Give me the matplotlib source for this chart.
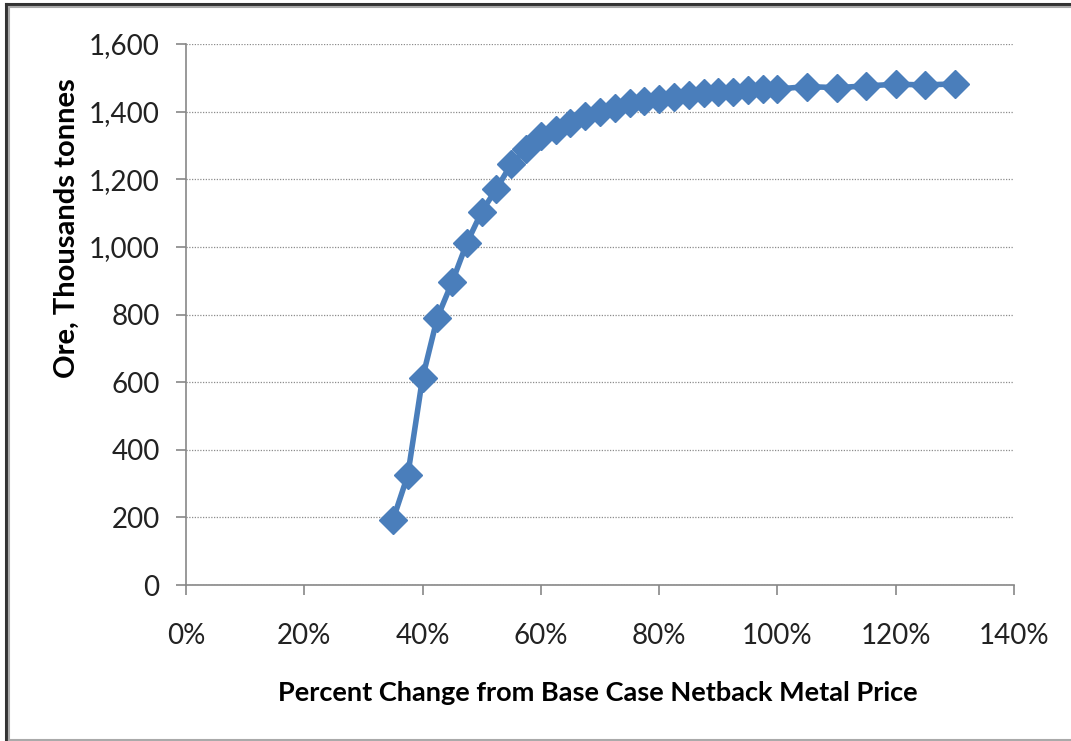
"""Ore tonnage vs. percent change in netback metal price (Excel-style line chart)."""
import matplotlib
matplotlib.use("Agg")
import matplotlib.pyplot as plt
from matplotlib.ticker import FuncFormatter, MultipleLocator
from matplotlib.lines import Line2D

# percent change from base case netback metal price
pct_change = [35, 37.5, 40, 42.5, 45, 47.5, 50, 52.5, 55, 57.5, 60, 62.5, 65,
              67.5, 70, 72.5, 75, 77.5, 80, 82.5, 85, 87.5, 90, 92.5, 95,
              97.5, 100, 105, 110, 115, 120, 125, 130]
# ore, thousands tonnes
ore_kt = [193, 325, 613, 791, 896, 1012, 1104, 1172, 1245, 1289, 1327, 1347,
          1367, 1386, 1400, 1411, 1425, 1430, 1438, 1444, 1450, 1454, 1457,
          1459, 1464, 1467, 1467, 1474, 1471, 1476, 1481, 1479, 1482]

BLUE = "#4a7ebb"
GRID = "#8c8c8c"
FONT = "Lato"

fig = plt.figure(figsize=(10.71, 7.41), dpi=100)
ax = fig.add_axes([186 / 1071, 1 - 585 / 741, 828 / 1071, 541 / 741])

ax.plot(pct_change, ore_kt, color=BLUE, lw=4, marker="D", ms=14,
        mec=BLUE, mfc=BLUE, zorder=3)

ax.set_xlim(0, 140)
ax.set_ylim(0, 1600)
ax.xaxis.set_major_locator(MultipleLocator(20))
ax.yaxis.set_major_locator(MultipleLocator(200))
ax.xaxis.set_major_formatter(FuncFormatter(lambda v, _: f"{v:.0f}%"))
ax.yaxis.set_major_formatter(FuncFormatter(lambda v, _: f"{v:,.0f}"))

ax.grid(axis="y", color=GRID, ls=(0, (1, 1.2)), lw=0.9)
ax.set_axisbelow(True)
for s in ("top", "right"):
    ax.spines[s].set_visible(False)
for s in ("left", "bottom"):
    ax.spines[s].set_color("#878787")
    ax.spines[s].set_linewidth(1.2)

ax.tick_params(axis="x", length=7, width=1.2, color="#878787", pad=20,
               labelsize=20, labelcolor="#222222")
ax.tick_params(axis="y", length=7, width=1.2, color="#878787", pad=12,
               labelsize=20, labelcolor="#222222")
for lab in ax.get_xticklabels() + ax.get_yticklabels():
    lab.set_fontfamily(FONT)

ax.set_xlabel("Percent Change from Base Case Netback Metal Price",
              fontsize=19.5, fontweight="bold", family=FONT)
ax.set_ylabel("Ore, Thousands tonnes", fontsize=21, fontweight="bold",
              family=FONT)
ax.xaxis.set_label_coords(0.497, -0.178)
ax.yaxis.set_label_coords(-0.128, 0.66)

# picture frame like the pasted Excel chart
fig.add_artist(Line2D([6 / 1071, 6 / 1071], [0, 1 - 4 / 741], color="#333333", lw=2.2))
fig.add_artist(Line2D([9 / 1071, 9 / 1071], [0, 1 - 7 / 741], color="#aaaaaa", lw=1.5))
fig.add_artist(Line2D([6 / 1071, 1], [1 - 4 / 741, 1 - 4 / 741], color="#333333", lw=2.2))
fig.add_artist(Line2D([9 / 1071, 1], [1 - 7 / 741, 1 - 7 / 741], color="#aaaaaa", lw=1.5))
fig.add_artist(Line2D([9 / 1071, 1], [1 / 741, 1 / 741], color="#aaaaaa", lw=1.5))

fig.savefig("out.png", dpi=100)
